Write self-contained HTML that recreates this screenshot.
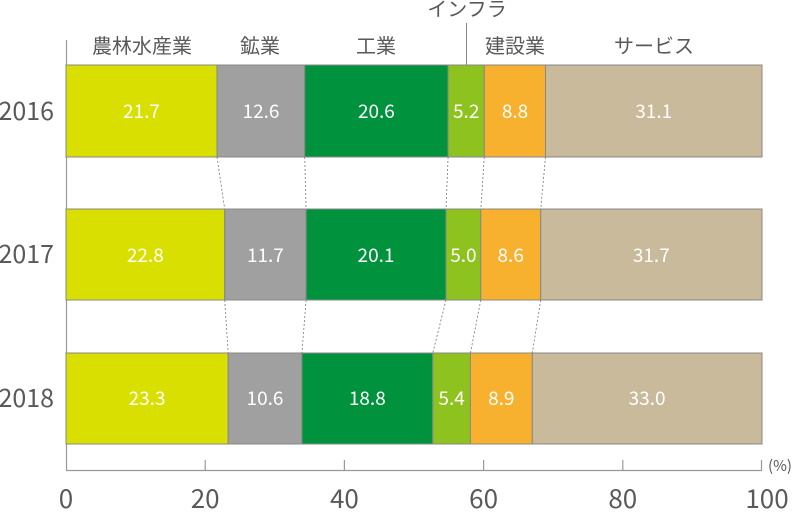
<!DOCTYPE html>
<html><head><meta charset="utf-8"><style>
html,body{margin:0;padding:0;background:#fff;}
svg{display:block;font-family:"Noto Sans CJK JP","Liberation Sans",sans-serif;}
</style></head><body>
<svg width="800" height="524" viewBox="0 0 800 524" xmlns="http://www.w3.org/2000/svg">
<g font-size="20" fill="#595959" text-anchor="middle">
<text x="142" y="53">農林水産業</text>
<text x="260" y="53">鉱業</text>
<text x="376" y="53">工業</text>
<text x="467" y="16">インフラ</text>
<text x="515" y="53">建設業</text>
<text x="654" y="53">サービス</text>
</g>
<line x1="466.5" y1="23" x2="466.5" y2="72" stroke="#888" stroke-width="1"/>
<line x1="66.5" y1="40" x2="66.5" y2="470" stroke="#999" stroke-width="1.2"/>
<g stroke="#888" stroke-width="1">
<rect x="66" y="65" width="151" height="92" fill="#d9df00"/>
<rect x="217" y="65" width="87.7" height="92" fill="#a0a0a0"/>
<rect x="304.7" y="65" width="143.4" height="92" fill="#00923c"/>
<rect x="448.1" y="65" width="36.2" height="92" fill="#8dc21f"/>
<rect x="484.3" y="65" width="61.2" height="92" fill="#f7b12e"/>
<rect x="545.5" y="65" width="216.5" height="92" fill="#c8ba9a"/>
<rect x="66" y="209" width="158.7" height="91" fill="#d9df00"/>
<rect x="224.7" y="209" width="81.4" height="91" fill="#a0a0a0"/>
<rect x="306.1" y="209" width="139.9" height="91" fill="#00923c"/>
<rect x="446" y="209" width="34.8" height="91" fill="#8dc21f"/>
<rect x="480.8" y="209" width="59.9" height="91" fill="#f7b12e"/>
<rect x="540.7" y="209" width="221.3" height="91" fill="#c8ba9a"/>
<rect x="66" y="353" width="162.2" height="91" fill="#d9df00"/>
<rect x="228.2" y="353" width="73.7" height="91" fill="#a0a0a0"/>
<rect x="301.9" y="353" width="130.9" height="91" fill="#00923c"/>
<rect x="432.8" y="353" width="37.6" height="91" fill="#8dc21f"/>
<rect x="470.4" y="353" width="61.9" height="91" fill="#f7b12e"/>
<rect x="532.3" y="353" width="229.7" height="91" fill="#c8ba9a"/>
</g>
<g stroke="#777" stroke-width="0.8" stroke-dasharray="2,2">
<line x1="217" y1="157" x2="224.7" y2="209"/><line x1="304.7" y1="157" x2="306.1" y2="209"/>
<line x1="448.1" y1="157" x2="446" y2="209"/><line x1="484.3" y1="157" x2="480.8" y2="209"/>
<line x1="545.5" y1="157" x2="540.7" y2="209"/>
<line x1="224.7" y1="300" x2="228.2" y2="353"/><line x1="306.1" y1="300" x2="301.9" y2="353"/>
<line x1="446" y1="300" x2="432.8" y2="353"/><line x1="480.8" y1="300" x2="470.4" y2="353"/>
<line x1="540.7" y1="300" x2="532.3" y2="353"/>
</g>
<g font-size="19" fill="#fff" text-anchor="middle">
<text x="141.5" y="118">21.7</text><text x="261" y="118">12.6</text><text x="376.4" y="118">20.6</text><text x="466.2" y="118">5.2</text><text x="515" y="118">8.8</text><text x="653.7" y="118">31.1</text>
<text x="145.3" y="262">22.8</text><text x="265.4" y="262">11.7</text><text x="376" y="262">20.1</text><text x="463.4" y="262">5.0</text><text x="510.7" y="262">8.6</text><text x="651.3" y="262">31.7</text>
<text x="147.1" y="405">23.3</text><text x="265" y="405">10.6</text><text x="367.3" y="405">18.8</text><text x="451.6" y="405">5.4</text><text x="501.3" y="405">8.9</text><text x="647.1" y="405">33.0</text>
</g>
<g font-size="25" fill="#595959" text-anchor="end">
<text x="54" y="120">2016</text><text x="54" y="263">2017</text><text x="54" y="407">2018</text>
</g>
<line x1="66" y1="470.5" x2="762" y2="470.5" stroke="#999" stroke-width="1.2"/>
<g stroke="#999" stroke-width="1.2">
<line x1="205.2" y1="460" x2="205.2" y2="470"/><line x1="344.4" y1="460" x2="344.4" y2="470"/>
<line x1="483.6" y1="460" x2="483.6" y2="470"/><line x1="622.8" y1="460" x2="622.8" y2="470"/>
<line x1="761.5" y1="460" x2="761.5" y2="470"/>
</g>
<g font-size="26" fill="#595959" text-anchor="middle">
<text x="66" y="508">0</text><text x="205.2" y="508">20</text><text x="344.4" y="508">40</text><text x="483.6" y="508">60</text><text x="622.8" y="508">80</text><text x="767" y="508">100</text>
</g>
<text x="768" y="471" font-size="15" fill="#595959">(%)</text>
</svg>
</body></html>
